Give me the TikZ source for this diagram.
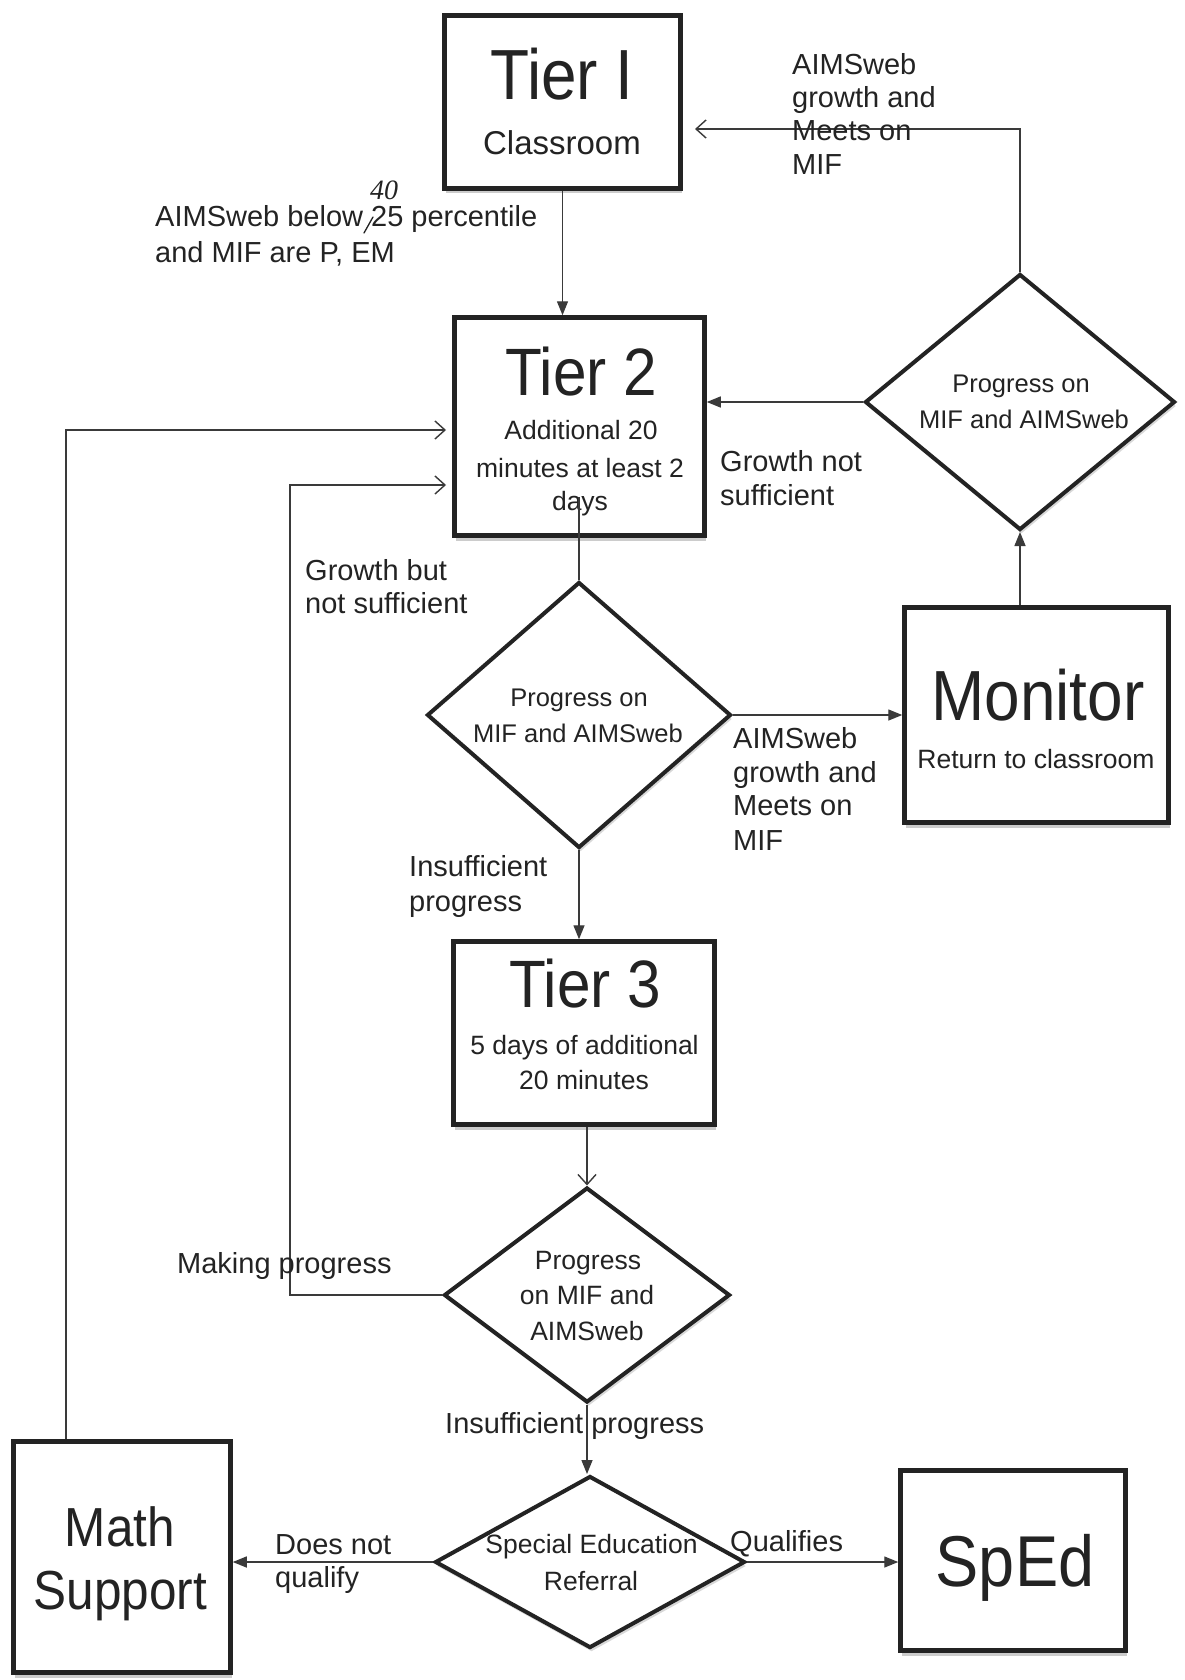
\documentclass[tikz,border=0pt]{standalone}
\usepackage{fontspec}
\setmainfont{Liberation Sans}
\newfontfamily\titlefont[FakeStretch=0.9]{Liberation Sans}
\newfontfamily\handfont{Liberation Serif}
\usetikzlibrary{arrows.meta,shapes.geometric,shadows}
\definecolor{ink}{HTML}{232323}
\definecolor{wire}{HTML}{3A3A3A}
\begin{document}
\begin{tikzpicture}[x=1pt,y=-1pt,
  box/.style={draw=ink, line width=4.5pt, fill=white, rectangle, inner sep=0pt,
    drop shadow={shadow xshift=1.5pt, shadow yshift=-5pt, opacity=0.4}},
  dia/.style={draw=ink, line width=4pt, fill=white, diamond, inner sep=0pt,
    drop shadow={shadow xshift=1.5pt, shadow yshift=-4pt, opacity=0.3}},
  conn/.style={draw=wire, line width=1.4pt},
  fa/.style={conn, -{Triangle[length=14pt,width=11pt]}},
  oa/.style={conn, -{Straight Barb[length=10pt,width=18pt,line width=1.4pt]}},
  ttl/.style={font=\titlefont\fontsize{67}{67}\selectfont, text=ink, inner sep=0pt, anchor=base},
  sub/.style={font=\fontsize{26.5}{30}\selectfont, text=ink, inner sep=0pt, anchor=base},
  lbl/.style={font=\fontsize{29}{34}\selectfont, text=ink, inner sep=0pt, anchor=base west},
]
\useasboundingbox (0,0) rectangle (1184,1680);
\fill[white] (0,0) rectangle (1184,1680);

% boxes
\node[box, minimum width=236pt, minimum height=173pt] (tier1) at (562.5,102) {};
\node[box, minimum width=250pt, minimum height=218pt] (tier2) at (579.5,426.5) {};
\node[box, minimum width=264pt, minimum height=215pt] (monitor) at (1036.5,715) {};
\node[box, minimum width=261pt, minimum height=183pt] (tier3) at (584,1033) {};
\node[box, minimum width=217pt, minimum height=231pt] (math) at (122,1557) {};
\node[box, minimum width=225pt, minimum height=180pt] (sped) at (1013,1560.5) {};
% diamonds
\node[dia, minimum width=304pt, minimum height=266pt] (d1) at (579,715) {};
\node[dia, minimum width=310pt, minimum height=256pt] (d2) at (1020,402) {};
\node[dia, minimum width=286pt, minimum height=215pt] (d3) at (587,1295) {};
\node[dia, minimum width=310pt, minimum height=172pt] (d4) at (590,1562) {};

% texts in boxes
\node[ttl, font=\titlefont\fontsize{71}{71}\selectfont] (t1a) at (562,100) {Tier I};
\node[sub, font=\fontsize{33}{36}\selectfont] (t1b) at (562,155) {Classroom};
\node[ttl] (t2a) at (581,395) {Tier 2};
\node[sub] (t2b) at (581,439) {Additional 20};
\node[sub] (t2c) at (580,477) {minutes at least 2};
\node[sub] (t2d) at (580,510) {days};
\node[ttl, font=\titlefont\fontsize{71}{71}\selectfont] (moa) at (1038,720) {Monitor};
\node[sub] (mob) at (1036,768) {Return to classroom};
\node[ttl] (t3a) at (585,1007) {Tier 3};
\node[sub] (t3b) at (584.5,1054) {5 days of additional};
\node[sub] (t3c) at (584,1089) {20 minutes};
\node[ttl, font=\titlefont\fontsize{55}{55}\selectfont] (msa) at (120,1546) {Math};
\node[ttl, font=\titlefont\fontsize{55}{55}\selectfont] (msb) at (120.5,1609) {Support};
\node[ttl, font=\titlefont\fontsize{72}{72}\selectfont] (spa) at (1015,1586) {SpEd};
% texts in diamonds
\node[sub, font=\fontsize{25.5}{30}\selectfont] (d1a) at (579,706) {Progress on};
\node[sub, font=\fontsize{25.5}{30}\selectfont] (d1b) at (578,742) {MIF and AIMSweb};
\node[sub, font=\fontsize{25.5}{30}\selectfont] (d2a) at (1021,392) {Progress on};
\node[sub, font=\fontsize{25.5}{30}\selectfont] (d2b) at (1024,428) {MIF and AIMSweb};
\node[sub] (d3a) at (588,1269) {Progress};
\node[sub] (d3b) at (587,1304) {on MIF and};
\node[sub] (d3c) at (587,1340) {AIMSweb};
\node[sub] (d4a) at (591.5,1553) {Special Education};
\node[sub] (d4b) at (591,1590) {Referral};

% connectors
\coordinate (t2in) at (579,497);
\draw[conn] (t2in) -- (t2in |- d1.north);
\draw[fa] (tier1.south) -- (tier1.south |- tier2.north);
\draw[fa] (d1.east) -- (d1.east -| monitor.west);
\draw[fa] (d2.south |- monitor.north) -- (d2.south);
\draw[fa] (d2.west) -- (d2.west -| tier2.east);
\coordinate (r1) at (695,129);
\draw[oa] (d2.north) |- (r1);
\draw[fa] (d1.south) -- (d1.south |- tier3.north);
\draw[oa] (d3.north |- tier3.south) -- (d3.north);
\coordinate (g1) at (290,485);
\coordinate (g2) at (446,485);
\draw[oa] (d3.west) -| (g1) -- (g2);
\coordinate (m1) at (66,430);
\coordinate (m2) at (446,430);
\draw[oa] (m1 |- math.north) -- (m1) -- (m2);
\draw[fa] (d3.south) -- (d3.south |- d4.north);
\draw[fa] (d4.west) -- (d4.west -| math.east);
\draw[fa] (d4.east) -- (d4.east -| sped.west);

% edge labels
\node[lbl] (l1a) at (155,227) {AIMSweb below 25 percentile};
\node[lbl] (l1b) at (155,262) {and MIF are P, EM};
\node[font=\handfont\itshape\fontsize{28}{28}\selectfont, text=ink, inner sep=0pt, anchor=base] (hand) at (384,200) {40};
\draw[ink, line width=1.3pt, line cap=round] (364,233) -- (373,217);
\node[lbl] (l2a) at (792,75) {AIMSweb};
\node[lbl] (l2b) at (792,108) {growth and};
\node[lbl] (l2c) at (792,141) {Meets on};
\node[lbl] (l2d) at (792,175) {MIF};
\node[lbl] (l3a) at (720,471) {Growth not};
\node[lbl] (l3b) at (720,505) {sufficient};
\node[lbl] (l4a) at (305,580) {Growth but};
\node[lbl] (l4b) at (305,613) {not sufficient};
\node[lbl] (l5a) at (733,748) {AIMSweb};
\node[lbl] (l5b) at (733,782) {growth and};
\node[lbl] (l5c) at (733,815) {Meets on};
\node[lbl] (l5d) at (733,850) {MIF};
\node[lbl] (l6a) at (409,876) {Insufficient};
\node[lbl] (l6b) at (409,911) {progress};
\node[lbl] (l7) at (177,1273) {Making progress};
\node[lbl] (l8) at (445,1433) {Insufficient progress};
\node[lbl] (l9a) at (275,1554) {Does not};
\node[lbl] (l9b) at (275,1587) {qualify};
\node[lbl] (l10) at (730,1551) {Qualifies};
\end{tikzpicture}
\end{document}
